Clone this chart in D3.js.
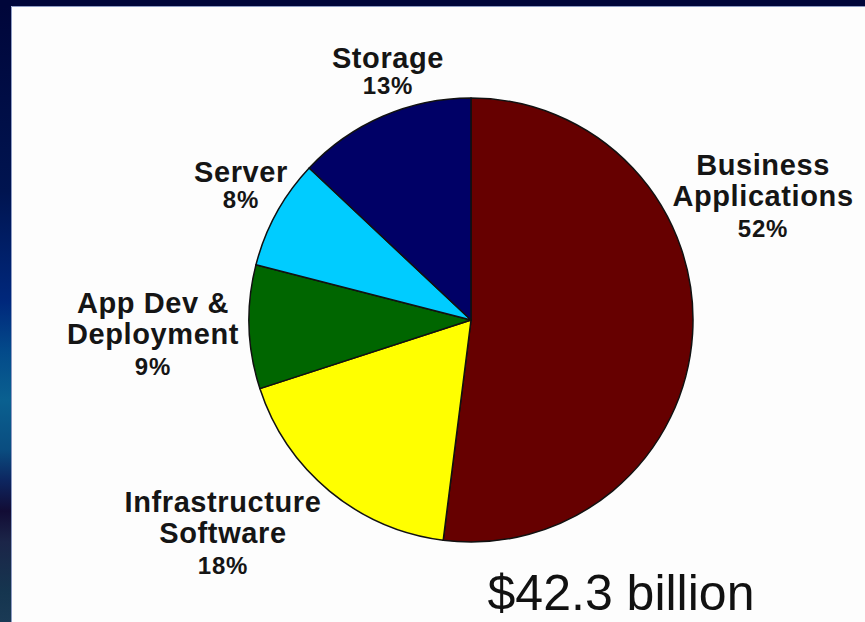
<!DOCTYPE html>
<html>
<head>
<meta charset="utf-8">
<script src="https://cdn.jsdelivr.net/npm/d3@7"></script>
<style>
  html, body { margin: 0; padding: 0; background: #00063a; }
  svg { display: block; }
</style>
</head>
<body>
<svg id="chart" width="865" height="622"></svg>
<script>
// segment data, clockwise from 12 o'clock
var categories = [ "Business Applications", "Infrastructure Software", "App Dev & Deployment", "Server", "Storage" ];
var shares = [ 52, 18, 9, 8, 13 ];
var labelLines = [
    [ "Business", "Applications" ],
    [ "Infrastructure", "Software" ],
    [ "App Dev &", "Deployment" ],
    [ "Server" ],
    [ "Storage" ]
];
var totalLabel = "$42.3 billion";

var colors = [ "#660000", "#ffff00", "#006600", "#00ccff", "#000066" ];
// where each label block sits (centre x, first baseline y)
var labelAt = [ [ 763, 175 ], [ 223, 512 ], [ 153, 313 ], [ 241, 182 ], [ 388, 68 ] ];

var svg = d3.select( "#chart" );
var width = 865, height = 622;

// slide background
var defs = svg.append( "defs" );
var grad = defs.append( "linearGradient" )
    .attr( "id", "side" )
    .attr( "x1", 0 ).attr( "y1", 0 ).attr( "x2", 0 ).attr( "y2", 1 );
[
    [ 0, "#00063a" ], [ 0.3, "#001450" ], [ 0.48, "#00287c" ], [ 0.56, "#034a8a" ],
    [ 0.64, "#0a6090" ], [ 0.72, "#0a4d80" ], [ 0.77, "#0d2660" ], [ 0.82, "#120c35" ],
    [ 0.87, "#1b2548" ], [ 0.95, "#15354f" ], [ 1, "#1a3a55" ]
].forEach( function ( s ) {
    grad.append( "stop" ).attr( "offset", s[ 0 ] ).attr( "stop-color", s[ 1 ] );
});

svg.append( "rect" )
    .attr( "width", width ).attr( "height", height )
    .attr( "fill", "#00063a" );
svg.append( "rect" )
    .attr( "y", 6 ).attr( "width", 11 ).attr( "height", height - 6 )
    .attr( "fill", "url(#side)" );
svg.append( "rect" )
    .attr( "x", 11 ).attr( "y", 6 )
    .attr( "width", width - 11 ).attr( "height", height - 6 )
    .attr( "fill", "#fdfdfd" );
svg.append( "path" )
    .attr( "d", "M11.5," + height + "V6.5H" + width )
    .attr( "fill", "none" )
    .attr( "stroke", "#8e9cc4" )
    .attr( "stroke-width", 1 );

// pie
var cx = 471, cy = 320, radius = 222;

var pie = d3.pie()
    .sort( null )
    .value( function ( d ) { return d; } );
var arc = d3.arc()
    .innerRadius( 0 )
    .outerRadius( radius );

var g = svg.append( "g" )
    .attr( "transform", "translate(" + cx + "," + cy + ")" );

g.selectAll( "path.slice" )
    .data( pie( shares ) )
    .enter().append( "path" )
    .attr( "class", "slice" )
    .attr( "d", arc )
    .attr( "fill", function ( d, i ) { return colors[ i ]; } )
    .attr( "stroke", "#111" )
    .attr( "stroke-width", 1.5 )
    .attr( "stroke-linejoin", "round" );

// labels
var lineStep = 31;
var labels = svg.selectAll( "g.label" )
    .data( categories )
    .enter().append( "g" )
    .attr( "class", "label" )
    .attr( "transform", function ( d, i ) {
        return "translate(" + labelAt[ i ][ 0 ] + "," + labelAt[ i ][ 1 ] + ")";
    })
    .attr( "font-family", "'Liberation Sans', Arial, sans-serif" )
    .attr( "font-weight", "bold" )
    .attr( "fill", "#151515" )
    .attr( "text-anchor", "middle" );

labels.each( function ( d, i ) {
    var el = d3.select( this );
    var lines = labelLines[ i ];
    lines.forEach( function ( line, j ) {
        el.append( "text" )
            .attr( "y", j * lineStep )
            .attr( "font-size", 29 )
            .attr( "letter-spacing", 0.6 )
            .text( line );
    });
    // single-line labels keep the percentage a little tighter
    var gap = lines.length > 1 ? lineStep : 26;
    el.append( "text" )
        .attr( "y", ( lines.length - 1 ) * lineStep + gap )
        .attr( "font-size", 24 )
        .attr( "letter-spacing", 0.8 )
        .text( shares[ i ] + "%" );
});

svg.append( "text" )
    .attr( "x", 621 )
    .attr( "y", 610 )
    .attr( "text-anchor", "middle" )
    .attr( "font-family", "'Liberation Sans', Arial, sans-serif" )
    .attr( "font-size", 50 )
    .attr( "fill", "#111" )
    .text( totalLabel );
</script>
</body>
</html>
